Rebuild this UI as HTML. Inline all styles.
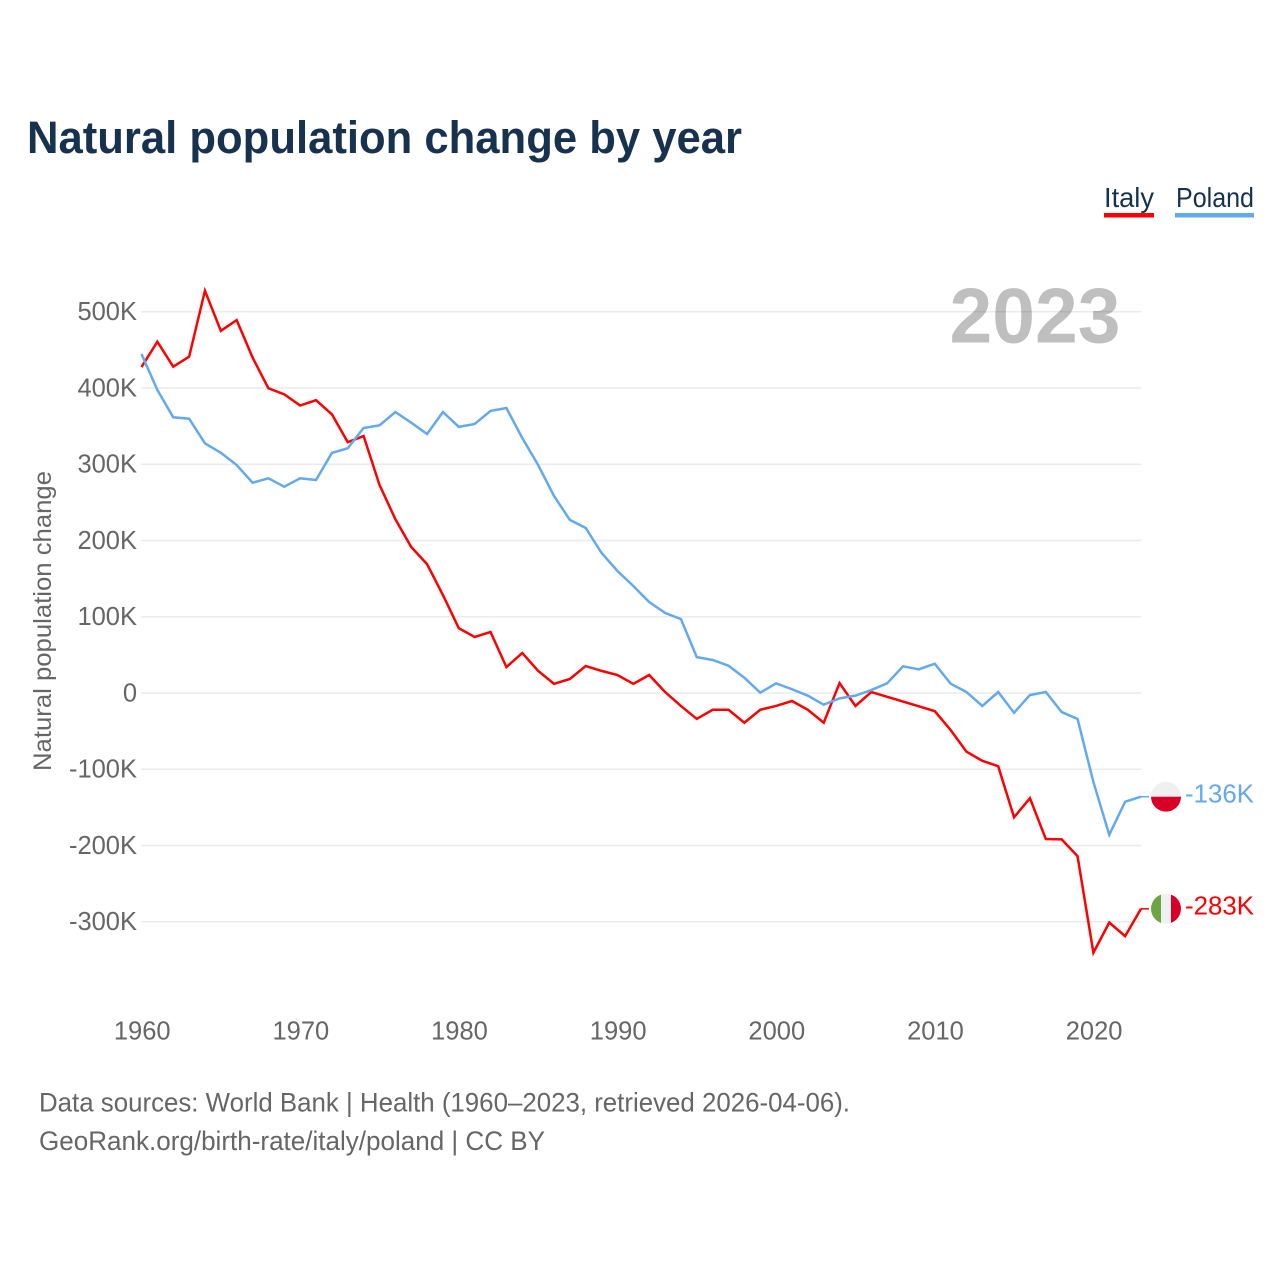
<!DOCTYPE html>
<html lang="en">
<head>
<meta charset="utf-8">
<title>Natural population change by year</title>
<style>
html,body{margin:0;padding:0;background:#fff;width:1280px;height:1280px;overflow:hidden}
svg{display:block}
text{font-family:"Liberation Sans",sans-serif}
</style>
</head>
<body>
<svg id="chart" xmlns="http://www.w3.org/2000/svg" width="1280" height="1280" viewBox="0 0 1280 1280">
  <defs>
    <clipPath id="flag-clip"><circle cx="0" cy="0" r="15"/></clipPath>
  </defs>
  <rect x="0" y="0" width="1280" height="1280" fill="#ffffff"/>
  <text x="27" y="153" font-size="45" font-weight="700" fill="#17324f" textLength="715" lengthAdjust="spacingAndGlyphs">Natural population change by year</text>

  <g>
    <text x="1104" y="207" font-size="27.5" fill="#17324f" textLength="50" lengthAdjust="spacingAndGlyphs">Italy</text>
    <rect x="1104" y="213" width="50" height="4.5" fill="#ff0000"/>
    <text x="1176" y="207" font-size="27.5" fill="#17324f" textLength="78" lengthAdjust="spacingAndGlyphs">Poland</text>
    <rect x="1175" y="213" width="79" height="4.5" fill="#63a9ee"/>
  </g>

  <g id="grid"></g>
  <g id="y-ticks"></g>
  <g id="x-ticks"></g>

  <text transform="translate(51,771) rotate(-90)" font-size="25" fill="#666666" textLength="300" lengthAdjust="spacingAndGlyphs">Natural population change</text>
  <text x="949.5" y="342.5" font-size="78" font-weight="700" fill="#000000" fill-opacity="0.25" textLength="171" lengthAdjust="spacingAndGlyphs">2023</text>

  <g id="series"></g>
  <g id="ends"></g>

  <text x="39" y="1111.5" font-size="27" fill="#666666" textLength="811" lengthAdjust="spacingAndGlyphs">Data sources: World Bank | Health (1960–2023, retrieved 2026-04-06).</text>
  <text x="39" y="1150" font-size="27" fill="#666666" textLength="506" lengthAdjust="spacingAndGlyphs">GeoRank.org/birth-rate/italy/poland | CC BY</text>
</svg>
<script>
const firstYear = 1960;
const italyValues = [427.5,460.7,428,441,527.6,475,489,440,399.6,391.7,377,384,365.5,329,337,273,228,191.5,169,128.5,85,73.5,80,34,52.5,29,12,18.4,35.4,29,23.6,12,23.6,1.3,-17,-34,-22,-22,-39,-22,-17,-10.5,-22,-39,13,-17,1.3,-5,-11.2,-17.5,-23.8,-48.5,-77,-89,-96,-163,-138,-191.5,-192,-214,-340.6,-301,-319,-283];
const polandValues = [444.6,397.4,361.6,359.7,327.5,315,299,275.8,281.6,270.6,281.6,279.3,314.8,321,347.5,351,368.5,354.5,339.7,368.5,349,352.8,370,373.8,334.4,299,258.4,227,216.4,183.6,160,140.3,119.3,105,97,47,43.3,35.8,20,0.4,12.7,4.9,-3.5,-15.3,-7,-3.5,3.9,12.7,35,31,38.4,12.2,1.3,-17,1.3,-26,-2.6,1.3,-25,-34,-116.7,-186,-142.6,-136];
const yTickValues = [500,400,300,200,100,0,-100,-200,-300];
const yTickLabels = ["500K","400K","300K","200K","100K","0","-100K","-200K","-300K"];
const xTickYears = [1960,1970,1980,1990,2000,2010,2020];
const endLabels = ["-283K","-136K"];

const NS = "http://www.w3.org/2000/svg";
function xScale(year){ return 141.5 + (year - 1960) * (999.5 / 63); }
function yScale(v){ return 693 - v * 0.7625; }
function make(tag, attrs, parent){
  const el = document.createElementNS(NS, tag);
  for (const k in attrs) el.setAttribute(k, attrs[k]);
  parent.appendChild(el);
  return el;
}

const grid = document.getElementById("grid");
const yTicks = document.getElementById("y-ticks");
yTickValues.forEach(function(v, i){
  const line = make("line", {x1:141, x2:1141, y1:yScale(v), y2:yScale(v), stroke:"#ebebeb", "stroke-width":1.6}, grid);
  
  
  const t = make("text", {x:137, y:yScale(v)+8.3, "text-anchor":"end", "font-size":25.5, fill:"#666666"}, yTicks);
  
  
  t.textContent = yTickLabels[i];
});

const xTicks = document.getElementById("x-ticks");
xTickYears.forEach(function(year){
  const t = make("text", {x:xScale(year)+0.7, y:1039.5, "text-anchor":"middle", "font-size":25.5, fill:"#666666"}, xTicks);
  
  
  t.textContent = String(year);
});

function linePoints(values){
  return values.map(function(v, i){ return xScale(firstYear + i).toFixed(2) + "," + yScale(v).toFixed(2); }).join(" ");
}
const seriesGroup = document.getElementById("series");
const italyLine = make("polyline", {points:linePoints(italyValues), fill:"none", stroke:"#ff0000", "stroke-width":2.5, "stroke-linejoin":"miter"}, seriesGroup);


const polandLine = make("polyline", {points:linePoints(polandValues), fill:"none", stroke:"#63a9ee", "stroke-width":2.5, "stroke-linejoin":"miter"}, seriesGroup);



const ends = document.getElementById("ends");
function drawEnd(values, color, label, stripes, suffix){
  const last = values[values.length - 1];
  const ey = yScale(last);
  const lastX = xScale(firstYear + values.length - 1);
  const conn = make("line", {x1:lastX, x2:lastX + 8, y1:ey, y2:ey, stroke:color, "stroke-width":1.5}, ends);
  
  
  const flag = make("g", {transform:"translate(1166," + ey + ")", "clip-path":"url(#flag-clip)"}, ends);
  
  
  stripes.forEach(function(s){ make("rect", {x:s[0], y:s[1], width:s[2], height:s[3], fill:s[4]}, flag); });
  const t = make("text", {x:1185, y:ey + 5.8, "font-size":26, fill:color, textLength:69, lengthAdjust:"spacingAndGlyphs"}, ends);
  
  
  t.textContent = label;
}
drawEnd(italyValues, "#ff0000", endLabels[0], [[-15,-15,10,30,"#6da544"],[-5,-15,10,30,"#f0f0f0"],[5,-15,10,30,"#d80027"]], "italy");
drawEnd(polandValues, "#63a9ee", endLabels[1], [[-15,-15,30,15,"#f0f0f0"],[-15,0,30,15,"#d80027"]], "poland");
</script>
</body>
</html>
